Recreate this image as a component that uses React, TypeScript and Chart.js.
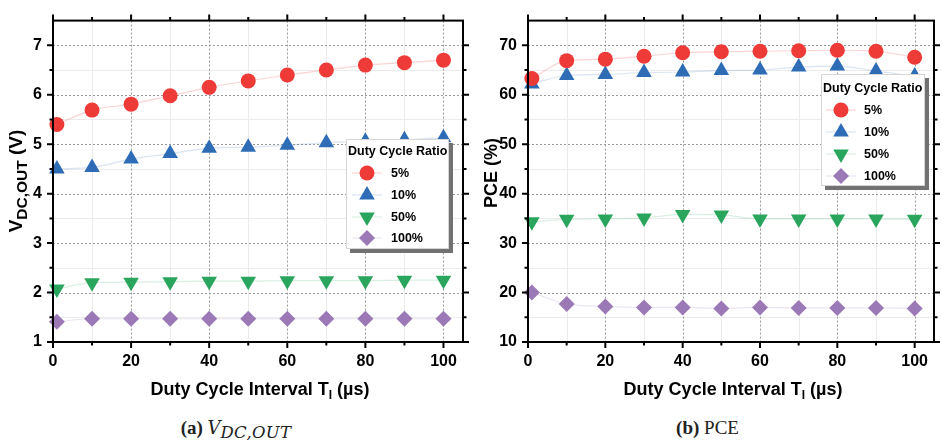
import React, { useEffect, useRef } from 'react';
import { Chart, registerables } from 'chart.js';
import { drawPoint } from 'chart.js/helpers';

Chart.register(...registerables);

// ---------------- data ----------------
const intervals = [1, 10, 20, 30, 40, 50, 60, 70, 80, 90, 100];
const seriesNames = ['5%', '10%', '50%', '100%'];
const legendTitle = 'Duty Cycle Ratio';

const vdc5 = [5.4, 5.69, 5.81, 5.98, 6.15, 6.28, 6.4, 6.5, 6.6, 6.65, 6.7];
const vdc10 = [4.5, 4.53, 4.7, 4.81, 4.92, 4.94, 4.98, 5.03, 5.06, 5.09, 5.13];
const vdc50 = [2.07, 2.2, 2.21, 2.22, 2.23, 2.23, 2.24, 2.24, 2.24, 2.25, 2.25];
const vdc100 = [1.41, 1.47, 1.47, 1.47, 1.47, 1.47, 1.47, 1.47, 1.47, 1.47, 1.47];

const pce5 = [63.3, 66.9, 67.2, 67.8, 68.5, 68.7, 68.8, 68.9, 69.0, 68.8, 67.6];
const pce10 = [62.2, 63.9, 64.1, 64.5, 64.6, 64.9, 65.0, 65.6, 65.8, 64.8, 63.8];
const pce50 = [34.3, 34.8, 34.9, 35.1, 35.8, 35.7, 34.9, 34.9, 34.9, 34.9, 34.8];
const pce100 = [20.0, 17.7, 17.2, 17.0, 17.0, 16.8, 17.0, 16.9, 16.9, 16.9, 16.8];

const xMajorTicks = [0, 20, 40, 60, 80, 100];
const xMinorTicks = [10, 30, 50, 70, 90];
const vdcMajorTicks = [1, 2, 3, 4, 5, 6, 7];
const vdcMinorTicks = [1.5, 2.5, 3.5, 4.5, 5.5, 6.5];
const pceMajorTicks = [10, 20, 30, 40, 50, 60, 70];
const pceMinorTicks = [15, 25, 35, 45, 55, 65];

const xTitleMain = 'Duty Cycle Interval T';
const xTitleSub = 'I';
const xTitleTail = ' (\u00b5s)';

// ---------------- styles ----------------
const FONT = '"Liberation Sans", Arial, Helvetica, sans-serif';
const seriesColors = ['#ee3b38', '#2e6cb6', '#2aa55d', '#9b79b7'];
const seriesLineColors = [
  'rgba(238,59,56,0.22)',
  'rgba(46,108,182,0.18)',
  'rgba(42,165,93,0.18)',
  'rgba(155,121,183,0.2)',
];
const seriesPointStyles = ['circle', 'triangle', 'triangle', 'rectRot'];
const seriesRotations = [0, 0, 180, 0];
const seriesRadii = [7.5, 9, 9, 8];

type TitlePart = { text: string; size: number; dy: number };
type Spec = {
  values: number[][];
  yMin: number;
  yMax: number;
  yMajor: number[];
  yMinor: number[];
  yTitle: TitlePart[];
  yTitleX: number;
  yTitleY: number;
  axisWidth: number;
  padRight: number;
  legend: {
    x: number; y: number; w: number; h: number;
    titleX: number; titleY: number;
    markerX: number; labelX: number; rows: number[];
  };
};

function drawParts(ctx: CanvasRenderingContext2D, parts: TitlePart[], cx: number, baseY: number) {
  let total = 0;
  parts.forEach((p) => {
    ctx.font = `bold ${p.size}px ${FONT}`;
    total += ctx.measureText(p.text).width;
  });
  let pos = cx - total / 2;
  parts.forEach((p) => {
    ctx.font = `bold ${p.size}px ${FONT}`;
    ctx.fillText(p.text, pos, baseY + p.dy);
    pos += ctx.measureText(p.text).width;
  });
}

function makePlugin(spec: Spec) {
  return {
    id: 'figureDecor',
    beforeDatasetsDraw(chart: any) {
      const { ctx, chartArea: a, scales } = chart;
      const xs = scales.x;
      const ys = scales.y;
      ctx.save();
      ctx.lineWidth = 1;
      // minor grid
      ctx.strokeStyle = '#ebebeb';
      ctx.beginPath();
      xMinorTicks.forEach((v) => {
        const px = Math.round(xs.getPixelForValue(v)) + 0.5;
        ctx.moveTo(px, a.top);
        ctx.lineTo(px, a.bottom);
      });
      spec.yMinor.forEach((v) => {
        const py = Math.round(ys.getPixelForValue(v)) + 0.5;
        ctx.moveTo(a.left, py);
        ctx.lineTo(a.right, py);
      });
      ctx.stroke();
      // major grid (dotted)
      ctx.strokeStyle = '#9a9a9a';
      ctx.setLineDash([2, 2]);
      ctx.beginPath();
      xMajorTicks.forEach((v) => {
        const px = Math.round(xs.getPixelForValue(v)) + 0.5;
        if (px <= a.left + 2) return;
        ctx.moveTo(px, a.top);
        ctx.lineTo(px, a.bottom);
      });
      spec.yMajor.forEach((v) => {
        const py = Math.round(ys.getPixelForValue(v)) + 0.5;
        if (py >= a.bottom - 2) return;
        ctx.moveTo(a.left, py);
        ctx.lineTo(a.right, py);
      });
      ctx.stroke();
      ctx.restore();
    },
    afterDatasetsDraw(chart: any) {
      const { ctx, chartArea: a, scales } = chart;
      const xs = scales.x;
      const ys = scales.y;
      ctx.save();
      // frame
      ctx.strokeStyle = '#000';
      ctx.lineWidth = 2;
      ctx.strokeRect(a.left, a.top, a.right - a.left, a.bottom - a.top);
      // ticks
      const tick = (vals: number[], len: number) => {
        ctx.beginPath();
        vals.forEach((v) => {
          const px = xs.getPixelForValue(v);
          ctx.moveTo(px, a.bottom);
          ctx.lineTo(px, a.bottom + len);
          ctx.moveTo(px, a.top);
          ctx.lineTo(px, a.top - len);
        });
        ctx.stroke();
      };
      const tickY = (vals: number[], len: number) => {
        ctx.beginPath();
        vals.forEach((v) => {
          const py = ys.getPixelForValue(v);
          ctx.moveTo(a.left, py);
          ctx.lineTo(a.left - len, py);
          ctx.moveTo(a.right, py);
          ctx.lineTo(a.right + len, py);
        });
        ctx.stroke();
      };
      tick(xMajorTicks, 6);
      tick(xMinorTicks, 3.5);
      tickY(spec.yMajor, 6);
      tickY(spec.yMinor, 3.5);

      // legend
      const L = spec.legend;
      ctx.fillStyle = '#727272';
      ctx.fillRect(L.x + L.w, L.y + 4, 4, L.h);
      ctx.fillRect(L.x + 4, L.y + L.h, L.w, 4);
      ctx.fillStyle = '#ffffff';
      ctx.fillRect(L.x, L.y, L.w, L.h);
      ctx.strokeStyle = '#d6d6d6';
      ctx.lineWidth = 1;
      ctx.strokeRect(L.x + 0.5, L.y + 0.5, L.w - 1, L.h - 1);
      ctx.fillStyle = '#000';
      ctx.textBaseline = 'middle';
      ctx.textAlign = 'left';
      ctx.font = `bold 12.5px ${FONT}`;
      ctx.fillText(legendTitle, L.titleX, L.titleY);
      seriesNames.forEach((name, i) => {
        const ry = L.rows[i];
        ctx.strokeStyle = seriesLineColors[i];
        ctx.lineWidth = 1.2;
        ctx.beginPath();
        ctx.moveTo(L.markerX - 15, ry);
        ctx.lineTo(L.markerX + 15, ry);
        ctx.stroke();
        ctx.fillStyle = seriesColors[i];
        drawPoint(ctx, {
          pointStyle: seriesPointStyles[i],
          rotation: seriesRotations[i],
          radius: seriesRadii[i],
          borderWidth: 0,
        } as any, L.markerX, ry);
        ctx.fillStyle = '#000';
        ctx.font = `bold 12.5px ${FONT}`;
        ctx.fillText(name, L.labelX, ry + 1);
      });
      ctx.restore();
    },
    afterDraw(chart: any) {
      const { ctx, chartArea: a } = chart;
      ctx.save();
      ctx.fillStyle = '#000';
      ctx.textBaseline = 'alphabetic';
      ctx.textAlign = 'left';
      // x title
      drawParts(
        ctx,
        [
          { text: xTitleMain, size: 18, dy: 0 },
          { text: xTitleSub, size: 12, dy: 4 },
          { text: xTitleTail, size: 18, dy: 0 },
        ],
        (a.left + a.right) / 2 + 2,
        395
      );
      // y title
      ctx.translate(spec.yTitleX, spec.yTitleY);
      ctx.rotate(-Math.PI / 2);
      drawParts(ctx, spec.yTitle, 0, 0);
      ctx.restore();
    },
  };
}

function buildChart(canvas: HTMLCanvasElement, spec: Spec) {
  const datasets = spec.values.map((vals, i) => ({
    label: seriesNames[i],
    data: intervals.map((x, j) => ({ x, y: vals[j] })),
    borderColor: seriesLineColors[i],
    borderWidth: 1.2,
    backgroundColor: seriesColors[i],
    pointBackgroundColor: seriesColors[i],
    pointBorderWidth: 0,
    pointRadius: seriesRadii[i],
    pointHoverRadius: seriesRadii[i],
    pointStyle: seriesPointStyles[i],
    pointRotation: seriesRotations[i],
    cubicInterpolationMode: 'monotone',
    clip: false,
  }));
  const tickFont = { family: FONT, size: 16, weight: 'bold' };
  return new Chart(canvas, {
    type: 'line',
    data: { datasets } as any,
    plugins: [makePlugin(spec)],
    options: {
      responsive: false,
      animation: false,
      events: [],
      layout: { padding: { top: 6, right: spec.padRight, bottom: 0, left: 0 } },
      plugins: { legend: { display: false }, tooltip: { enabled: false } },
      scales: {
        x: {
          type: 'linear',
          min: 0,
          max: 105,
          afterBuildTicks: (s: any) => {
            s.ticks = xMajorTicks.map((v) => ({ value: v }));
          },
          afterFit: (s: any) => {
            s.height = 58;
          },
          ticks: { font: tickFont, color: '#000', padding: 10, maxRotation: 0, autoSkip: false },
          grid: { display: false, drawTicks: false },
          border: { display: false },
        },
        y: {
          type: 'linear',
          min: spec.yMin,
          max: spec.yMax,
          afterBuildTicks: (s: any) => {
            s.ticks = spec.yMajor.map((v) => ({ value: v }));
          },
          afterFit: (s: any) => {
            s.width = spec.axisWidth;
          },
          ticks: { font: tickFont, color: '#000', padding: 11, autoSkip: false },
          grid: { display: false, drawTicks: false },
          border: { display: false },
        },
      },
    } as any,
  });
}

const leftSpec: Spec = {
  values: [vdc5, vdc10, vdc50, vdc100],
  yMin: 1,
  yMax: 7.5,
  yMajor: vdcMajorTicks,
  yMinor: vdcMinorTicks,
  yTitle: [
    { text: 'V', size: 19, dy: 0 },
    { text: 'DC,OUT', size: 15.5, dy: 5 },
    { text: ' (V)', size: 19, dy: 0 },
  ],
  yTitleX: 22,
  yTitleY: 181,
  axisWidth: 53,
  padRight: 2,
  legend: {
    x: 346, y: 139, w: 103, h: 110,
    titleX: 348, titleY: 152,
    markerX: 367, labelX: 391, rows: [173, 195, 217, 238],
  },
};

const rightSpec: Spec = {
  values: [pce5, pce10, pce50, pce100],
  yMin: 10,
  yMax: 75,
  yMajor: pceMajorTicks,
  yMinor: pceMinorTicks,
  yTitle: [{ text: 'PCE (%)', size: 18, dy: 0 }],
  yTitleX: 25,
  yTitleY: 173,
  axisWidth: 56,
  padRight: 3,
  legend: {
    x: 349, y: 74, w: 104, h: 112,
    titleX: 351, titleY: 89,
    markerX: 369, labelX: 392, rows: [110, 132, 154, 176],
  },
};

export default function App() {
  const leftRef = useRef<HTMLCanvasElement>(null);
  const rightRef = useRef<HTMLCanvasElement>(null);
  useEffect(() => {
    const c1 = buildChart(leftRef.current!, leftSpec);
    const c2 = buildChart(rightRef.current!, rightSpec);
    return () => {
      c1.destroy();
      c2.destroy();
    };
  }, []);
  const capStyle: React.CSSProperties = {
    position: 'absolute',
    top: 417,
    textAlign: 'center',
    fontFamily: '"Liberation Serif", "DejaVu Serif", serif',
    fontSize: 19,
    color: '#222',
    lineHeight: '22px',
    whiteSpace: 'nowrap',
  };
  return (
    <div style={{ position: 'absolute', left: 0, top: 0, width: 943, height: 443, background: '#fff', overflow: 'hidden' }}>
      <canvas ref={leftRef} width={472} height={400} style={{ position: 'absolute', left: 0, top: 0, width: 472, height: 400 }} />
      <canvas ref={rightRef} width={471} height={400} style={{ position: 'absolute', left: 472, top: 0, width: 471, height: 400 }} />
      <div style={{ ...capStyle, left: 0, width: 472 }}>
        <b>(a)</b>{' '}
        <i style={{ fontFamily: '"DejaVu Serif", serif', fontSize: 18 }}>
          V<sub style={{ fontSize: 16.5, verticalAlign: '-4px', letterSpacing: '0.3px' }}>DC,OUT</sub>
        </i>
      </div>
      <div style={{ ...capStyle, left: 472, width: 471 }}>
        <b>(b)</b> PCE
      </div>
    </div>
  );
}
